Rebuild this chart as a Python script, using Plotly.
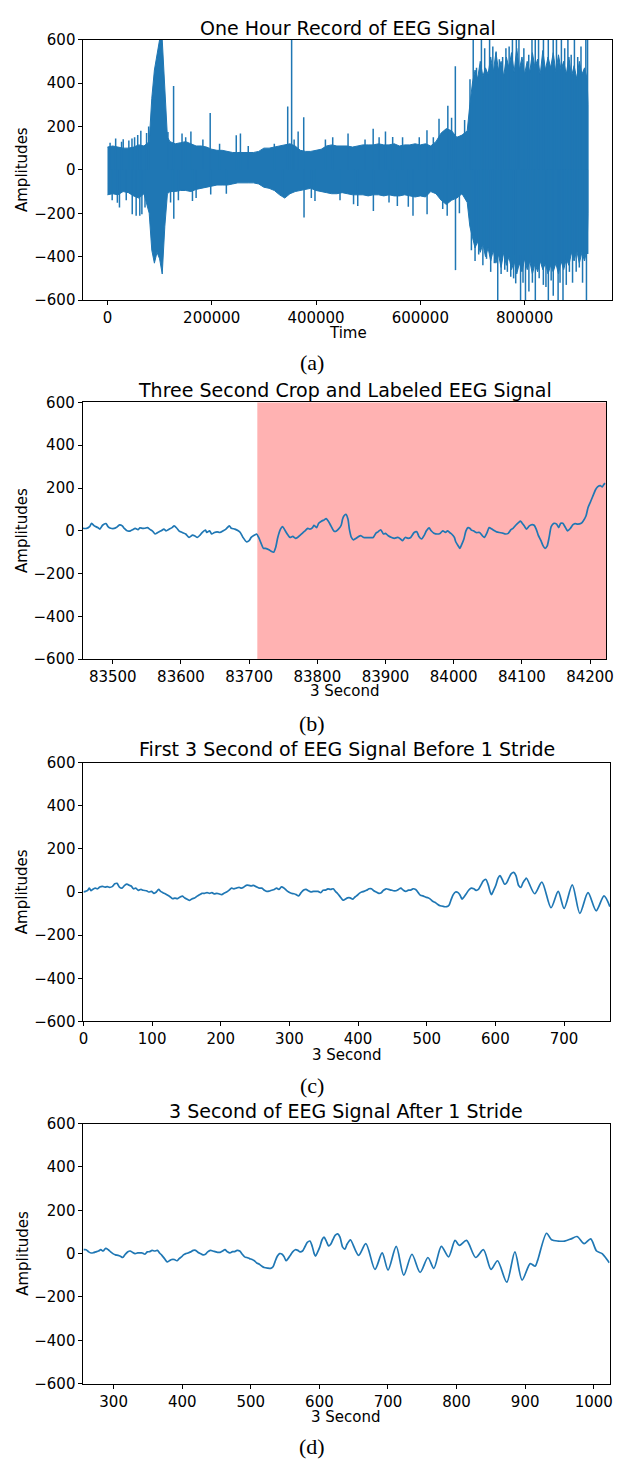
import plotly.graph_objects as go

FW, FH = 619, 1465
BLUE = "#1f77b4"
SPAN_RED = "#ffb2b2"

# ---------------- Panel (a): one-hour record (envelope + spikes) ----------------
band_t = [0, 10000, 20000, 30000, 40000, 50000, 60000, 70000, 80000, 85000, 90000, 95000,
          100000, 105000, 110000, 115000, 120000, 130000, 140000, 150000, 160000, 170000,
          180000, 190000, 200000, 210000, 220000, 230000, 240000, 250000, 260000, 270000,
          280000, 290000, 300000, 310000, 320000, 330000, 340000, 350000, 360000, 370000,
          380000, 390000, 400000, 410000, 420000, 430000, 440000, 450000, 460000, 470000,
          480000, 490000, 500000, 510000, 520000, 530000, 540000, 550000, 560000, 570000,
          580000, 590000, 600000, 610000, 620000, 630000, 640000, 650000, 660000, 670000,
          680000, 690000, 695000, 700000, 705000, 710000, 715000, 720000, 725000, 730000,
          735000, 740000, 745000, 750000, 755000, 760000, 765000, 770000, 775000, 780000,
          785000, 790000, 795000, 800000, 805000, 810000, 815000, 820000, 825000, 830000,
          835000, 840000, 845000, 850000, 855000, 860000, 865000, 870000, 875000, 880000,
          885000, 890000, 895000, 900000, 905000, 910000, 915000, 920000, 921600]
band_hi = [105, 110, 105, 100, 100, 105, 115, 110, 130, 330, 460, 540,
           600, 600, 380, 150, 130, 120, 125, 130, 120, 110,
           110, 105, 95, 90, 90, 85, 80, 80, 80, 80,
           80, 85, 100, 100, 105, 110, 115, 120, 110, 90,
           85, 85, 90, 95, 110, 115, 110, 110, 110, 105,
           110, 115, 115, 115, 120, 115, 115, 120, 110, 115,
           115, 120, 115, 120, 110, 130, 170, 190, 180, 150,
           160, 180, 300, 400, 460, 420, 500, 430, 470, 440,
           520, 450, 540, 460, 500, 430, 520, 470, 540, 450,
           560, 460, 520, 440, 500, 450, 540, 470, 510, 440,
           550, 460, 520, 470, 540, 450, 530, 460, 500, 440,
           520, 430, 480, 420, 500, 440, 470, 420, 300]
band_lo = [-115, -110, -115, -100, -105, -120, -130, -110, -200, -370, -430, -380,
           -410, -480, -260, -110, -100, -100, -95, -95, -100, -90,
           -85, -80, -75, -70, -70, -70, -65, -60, -60, -60,
           -60, -65, -80, -85, -95, -115, -130, -110, -100, -95,
           -90, -85, -95, -100, -105, -110, -110, -105, -110, -115,
           -115, -115, -120, -115, -115, -120, -115, -120, -120, -115,
           -120, -125, -120, -125, -100, -110, -140, -160, -140, -130,
           -110, -150, -260, -310, -360, -330, -380, -340, -400, -360,
           -420, -370, -430, -390, -450, -380, -440, -400, -460, -420,
           -480, -430, -470, -410, -460, -420, -480, -430, -470, -420,
           -460, -430, -480, -440, -470, -430, -480, -420, -460, -410,
           -440, -380, -420, -370, -430, -380, -420, -360, -200]

spike_t = [5000, 9000, 15700, 19000, 23000, 27000, 30200, 36000, 41000, 47000, 47500, 52000,
           55000, 58000, 62000, 64000, 66000, 72000, 75000, 79000,
           116000, 121000, 126800, 127200, 136000, 143000, 150000, 160000, 163000, 170000,
           183000, 197000, 198000, 215000, 228000, 247000, 255000, 270000,
           320000, 336000, 345700, 353200, 358000, 365700, 376400, 377000, 391000, 398000,
           418000, 432000, 446000, 461400, 472000, 480000, 494000, 509600, 510000, 521000,
           533200, 540000, 547000, 556000, 566000, 577000, 586000, 598000, 612800, 613000,
           625000, 635900, 643000, 651600, 652800, 660000, 667200, 667500, 675000, 685000,
           695300, 701500, 707800, 717200, 723500, 732900, 739100, 745400, 751600, 757900,
           764200, 770400, 776700, 784200, 789200, 798600, 808000, 814200, 820500, 826800,
           836200, 845500, 854900, 861200, 870600, 876900, 883100, 889400, 895600, 901900,
           908200, 917500, 920800,
           698000, 705000, 712000, 720000, 727000, 735000, 742000, 748500, 755000, 762000,
           767000, 773500, 779000, 783000, 792300, 797000, 801700, 808300, 815000, 820600,
           828000, 836000, 841000, 845600, 851000, 855000, 864300, 868000, 873700, 880000,
           886000, 892000, 899000, 905000, 911200, 918700, 921000]
spike_v = [125, -140, 145, -152, -174, 130, 141, -140, 135, 144, -205, 150,
           -212, 160, -212, 180, -205, -174, 170, 200,
           174, -150, 386, -225, -140, 167, 150, 177, -144, -130,
           140, 262, -114, 120, -110, 159, 167, 110,
           120, -120, 292, 650, 140, 177, 242, -220, -130, -144,
           140, 150, -140, 167, -159, -167, 140, 189, -190, 150,
           177, -150, 151, -167, 150, -170, -212, 150, 182, -205,
           150, 235, -180, -212, 295, 240, 477, -462, -200, 230,
           417, 650, 470, 650, 560, 650, 568, 545, 510, 520,
           560, 568, 650, 650, 650, 560, 530, 650, 650, 650,
           650, 650, 650, 650, 650, 560, 650, 530, 650, 520,
           568, 650, 650,
           -370, -420, -390, -440, -410, -470, -430, -650, -480, -460,
           -470, -492, -500, -523, -650, -520, -650, -560, -520, -650,
           -500, -530, -540, -650, -510, -580, -650, -520, -650, -530,
           -470, -520, -470, -450, -520, -650, -388]

a_range = [-46080, 967680]
a_ticks = [0, 200000, 400000, 600000, 800000]
a_ticklabels = ["0", "200000", "400000", "600000", "800000"]

# ---------------- Panel (b): three-second crop, labelled region ----------------
b_t = [83456, 83461, 83466, 83469, 83473, 83478, 83481, 83485, 83490, 83493, 83497, 83502,
       83505, 83510, 83514, 83517, 83521, 83526, 83529, 83533, 83537, 83540, 83544, 83547,
       83551, 83554, 83558, 83562, 83566, 83571, 83575, 83578, 83583, 83587, 83590, 83594,
       83597, 83602, 83607, 83612, 83617, 83620, 83624, 83628, 83631, 83636, 83638, 83642,
       83645, 83649, 83653, 83657, 83662, 83666, 83671, 83674, 83679, 83684, 83687, 83691,
       83696, 83700, 83703, 83708, 83711, 83714, 83717, 83721, 83724, 83729, 83733, 83736,
       83739, 83742, 83746, 83749, 83753, 83757, 83760, 83764, 83768, 83771, 83775, 83779,
       83782, 83786, 83789, 83793, 83795, 83799, 83802, 83806, 83810, 83813, 83816, 83820,
       83824, 83827, 83831, 83835,
       83837, 83839, 83842, 83845, 83847, 83850, 83853, 83857, 83861, 83864, 83868, 83873,
       83877, 83882, 83886, 83889, 83893, 83897, 83900, 83904, 83909, 83913, 83918, 83922,
       83925, 83929, 83933, 83937, 83942, 83946, 83949, 83953, 83957, 83960, 83964, 83967,
       83971, 83976, 83980, 83984, 83988, 83991, 83994, 83997, 84001, 84003, 84007, 84009,
       84012, 84015, 84018, 84021, 84024, 84026, 84029, 84033, 84038, 84042, 84045, 84049,
       84052, 84056, 84060, 84063, 84067, 84072, 84076, 84080, 84084, 84087, 84091, 84095,
       84098, 84100, 84104, 84107, 84111, 84115, 84118, 84121, 84124, 84128, 84131, 84134,
       84137, 84140, 84143, 84147, 84151, 84154, 84157, 84160, 84164, 84167, 84171, 84175,
       84178, 84182, 84187, 84190, 84194, 84197, 84201, 84205, 84208, 84211, 84215, 84218,
       84220, 84222]
b_v = [12, 11, 20, 35, 23, 15, 8, 26, 34, 20, 12, 11,
       15, 28, 23, 11, 0, 0, 5, 11, 5, 14, 11, 12,
       15, 8, 0, -15, -8, 0, 8, 0, 8, 15, 23, 12,
       0, -8, -15, -31, -20, -23, -31, -20, -8, 3, -8, 0,
       -15, -8, -5, -8, 0, 8, 23, 12, 8, 0, -8, -31,
       -51, -46, -31, -20, -15, -31, -54, -82, -82, -88, -97, -100,
       -77, -31, 8, 20, 0, -20, -31, -26, -35, -31, -20, -8,
       0, 11, 8, 15, 26, 15, 35, 45, 51, 57, 46, 23,
       0, -3, 8, 26,
       54, 69, 77, 54, 8, -31, -42, -35, -26, -23, -31, -32,
       -32, -31, -11, -5, 5, -15, -12, -23, -31, -35, -31, -38,
       -46, -31, -35, -31, -8, -5, -26, -38, -20, 0, 14, 0,
       -11, -15, -12, 0, -8, 0, -8, -15, -31, -51, -72, -82,
       -62, -38, 0, 15, 11, 3, 0, -8, -8, -23, -31, -8,
       15, 8, 0, -5, -8, -11, -15, -12, 5, 11, 26, 38,
       45, 38, 20, 8, 23, 29, 26, 8, -20, -46, -69, -82,
       -72, -31, 20, 35, 31, 15, 35, 35, 15, 0, 11, 29,
       34, 31, 35, 46, 69, 108, 138, 169, 192, 205, 211, 205,
       215, 223]
b_range = [83456, 84224]
b_label_start = 83712
b_label_end = 84224
b_ticks = [83500, 83600, 83700, 83800, 83900, 84000, 84100, 84200]
b_ticklabels = ["83500", "83600", "83700", "83800", "83900", "84000", "84100", "84200"]

# ---------------- Panels (c) and (d): samples 0..1023 of one window (stride of 256) ----------------
sig_t = [0, 2.9, 6.2, 8.6, 11, 13.3, 17.1, 20.5, 23.8, 27.6, 31.4, 34.8, 38.1, 41.9, 45.7, 49,
         52.4, 56.2, 60, 63.3, 66.7, 69.5, 72.8, 76.2, 80, 83.8, 87.1, 91.9, 95.2, 99, 102.8,
         106.2, 109.5, 112.4, 115.7, 119, 122.8, 126.6, 130, 133.3, 137.1, 140.9, 144.3, 147.6,
         151.4, 154.7, 158.5, 161.9, 165.7, 169.5, 172.8, 176.2, 180, 183.8, 187.1, 190.4,
         194.3, 198, 201.4, 204.7, 208.5, 212.3, 215.7, 219, 222.8, 226.6, 230, 233.3, 237.1,
         240.9, 244.3, 247.6, 251.4,
         256, 259.8, 263.6, 267, 270.3, 274.1, 277.9, 281.3, 284.6, 288.4, 292.2, 295.6, 298.9,
         302.7, 306.5, 309.9, 313.2, 317, 320.8, 324.2, 327.5, 331.3, 335.1, 338.5, 341.8, 345.6,
         349, 352.7, 356.1, 359.9, 363.7, 367, 370.4, 374.2, 378, 381.3, 384.7, 388.5, 392.3,
         395.6, 399, 401.8, 405.2, 408.5, 412.3, 416.1, 419.5, 422.8, 426.6, 430.4, 433.8,
         437.1, 440.9, 444.7, 448.1, 451.4, 455.2, 459, 462.3, 465.7, 469.5, 473.3, 476.6, 480,
         483.8, 487.6, 490.9, 494.3, 498.1, 501.9, 505.2, 508.6, 512.4, 516.2, 519.5, 524.3,
         529, 532.4, 535.2, 538.6, 541.9, 545.7, 548.6, 551.4, 554.3, 557.6, 561, 564.8, 568.6,
         571.9, 575.3, 579.1, 582.4, 586.2, 589.6, 592.4, 594.3, 597.2, 600.5, 603.9, 606.7,
         610, 613.4, 616.2, 619.6, 622.9, 626.7, 630, 633.9, 637.2, 640.1, 643.4,
         645.3, 657.2, 667.7, 681, 691.5, 700.1, 712, 723, 734.9, 746.8, 758.2, 766.8, 777.8,
         788.3, 797.8, 804, 814.5, 827.8, 839.2, 850.2, 859.7, 873.1, 885, 895.5, 907.4, 914.5,
         918.3, 931.2, 938.4, 947.9, 957.4, 966.9, 975.5, 986, 995.5, 1004.1, 1012.2, 1021.7,
         1023]
sig_v = [0, 3, 8, 18, 6, 12, 18, 15, 23, 26, 23, 25, 22, 25, 38, 40,
         23, 18, 31, 37, 31, 28, 15, 18, 8, 12, 8, 6, 0, 3, -6,
         0, 12, 3, -3, -8, -15, -23, -31, -28, -31, -23, -19, -28,
         -34, -39, -31, -28, -19, -12, -6, -6, -3, -6, -3, -9,
         -6, -9, -12, -6, 0, 9, 18, 15, 18, 22, 18, 22, 31,
         31, 28, 31, 25,
         18, 18, 8, 3, 4, 8, 12, 18, 12, 24, 18, 8, 0,
         -6, -8, -12, -18, -3, 9, 12, 6, 0, 3, 3, 3, -3,
         8, 9, 15, 12, 15, 3, -8, -23, -38, -33, -27, -27, -33,
         -23, -15, -6, 0, 3, 8, 15, 15, 6, 0, -6, -3,
         8, 15, 12, 9, 6, 6, 12, 18, 9, 3, 9, 9, 15,
         12, -3, -15, -18, -23, -27, -33, -43, -49, -58, -64, -67,
         -68, -61, -38, -12, 0, -3, -15, -33, -23, -8, 8, 18, 15,
         8, 12, 33, 52, 58, 33, 0, -12, 6, 30, 64, 76,
         58, 36, 42, 64, 84, 91, 76, 30, 21, 42, 58,
         64, -8, 46, -73, 3, -76, 33, -99, -3, -87, -18, -68, 33,
         -15, 61, 38, 61, -18, 18, -73, -33, -132, 8, -122, -46, -58,
         -30, 94, 64, 58, 58, 68, 79, 46, 68, 12, 0, -38,
         -42]
c_range = [0, 767]
d_range = [256, 1023]
c_ticks = [0, 100, 200, 300, 400, 500, 600, 700]
c_ticklabels = ["0", "100", "200", "300", "400", "500", "600", "700"]
d_ticks = [300, 400, 500, 600, 700, 800, 900, 1000]
d_ticklabels = ["300", "400", "500", "600", "700", "800", "900", "1000"]

y_range = [-600, 600]
y_ticks = [-600, -400, -200, 0, 200, 400, 600]
y_ticklabels = ["\u2212600", "\u2212400", "\u2212200", "0", "200", "400", "600"]

titles = ["One Hour Record of EEG Signal", "Three Second Crop and Labeled EEG Signal",
          "First 3 Second of EEG Signal Before 1 Stride", "3 Second of EEG Signal After 1 Stride"]
xlabels = ["Time", "3 Second", "3 Second", "3 Second"]
captions = ["(a)", "(b)", "(c)", "(d)"]

# ---------------- layout geometry (page pixels) ----------------
boxes = [  # left, right, top, bottom
    (80, 619, 31, 294.7),
    (79.3, 613.3, 398.3, 658.3),
    (80, 617, 763, 1025),
    (80, 616.5, 1128.5, 1391.7),
]
title_y = [19, 385.5, 749, 1116]
xlabel_y = [328, 690.5, 1059, 1426]
caption_y = [358, 723, 1090, 1455]

SANS = "DejaVu Sans"
SERIF = "Liberation Serif"


def px_x(x):
    return min(max(x / FW, 0), 1)


def px_y(y):
    return min(max(1 - y / FH, 0), 1)


fig = go.Figure()

# panel a
fig.add_trace(go.Scatter(x=band_t + band_t[::-1], y=band_hi + band_lo[::-1], mode="lines",
                         fill="toself", fillcolor=BLUE, line=dict(color=BLUE, width=1),
                         xaxis="x", yaxis="y", hoverinfo="skip", showlegend=False))
sx, sy = [], []
for t, v in zip(spike_t, spike_v):
    sx += [t, t, None]
    sy += [0, v, None]
fig.add_trace(go.Scatter(x=sx, y=sy, mode="lines", line=dict(color=BLUE, width=1.5),
                         xaxis="x", yaxis="y", hoverinfo="skip", showlegend=False))

# panel b
fig.add_trace(go.Scatter(x=b_t, y=b_v, mode="lines",
                         line=dict(color=BLUE, width=1.7, shape="spline", smoothing=0.6),
                         xaxis="x2", yaxis="y2", showlegend=False))

# panels c, d
c_t = [t for t in sig_t if c_range[0] <= t <= c_range[1]]
c_v = [v for t, v in zip(sig_t, sig_v) if c_range[0] <= t <= c_range[1]]
d_t = [t for t in sig_t if d_range[0] <= t <= d_range[1]]
d_v = [v for t, v in zip(sig_t, sig_v) if d_range[0] <= t <= d_range[1]]
fig.add_trace(go.Scatter(x=c_t, y=c_v, mode="lines",
                         line=dict(color=BLUE, width=1.7, shape="spline", smoothing=0.8),
                         xaxis="x3", yaxis="y3", showlegend=False))
fig.add_trace(go.Scatter(x=d_t, y=d_v, mode="lines",
                         line=dict(color=BLUE, width=1.7, shape="spline", smoothing=0.8),
                         xaxis="x4", yaxis="y4", showlegend=False))

fig.add_shape(type="rect", xref="x2", yref="y2 domain", x0=b_label_start, x1=b_label_end,
              y0=0, y1=1, fillcolor=SPAN_RED, line=dict(width=0), layer="below")

x_specs = [
    (a_range, a_ticks, a_ticklabels),
    (b_range, b_ticks, b_ticklabels),
    (c_range, c_ticks, c_ticklabels),
    (d_range, d_ticks, d_ticklabels),
]

axis_common = dict(showgrid=False, zeroline=False, showline=True, mirror=True,
                   linecolor="black", linewidth=1, ticks="outside", ticklen=4,
                   tickwidth=1, tickcolor="black",
                   tickfont=dict(family=SANS, size=15, color="black"))

layout = dict(width=FW, height=FH, margin=dict(l=0, r=0, t=0, b=0), hovermode=False,
              paper_bgcolor="white", plot_bgcolor="rgba(0,0,0,0)", showlegend=False)
annotations = []
for i, ((l, r, top, bot), (rng, tv, tt)) in enumerate(zip(boxes, x_specs)):
    sfx = "" if i == 0 else str(i + 1)
    layout["xaxis" + sfx] = dict(domain=[px_x(l), px_x(r)], range=rng, tickvals=tv, ticktext=tt,
                                 anchor="y" + sfx, **axis_common)
    layout["yaxis" + sfx] = dict(domain=[px_y(bot), px_y(top)], range=y_range,
                                 tickvals=y_ticks, ticktext=y_ticklabels,
                                 anchor="x" + sfx, **axis_common)
    cx = (l + r) / 2 / FW
    annotations.append(dict(text=titles[i], x=cx, y=px_y(title_y[i]), xref="paper", yref="paper",
                            xanchor="center", yanchor="middle", showarrow=False,
                            font=dict(family=SANS, size=19, color="black")))
    annotations.append(dict(text=xlabels[i], x=cx, y=px_y(xlabel_y[i]), xref="paper", yref="paper",
                            xanchor="center", yanchor="middle", showarrow=False,
                            font=dict(family=SANS, size=15, color="black")))
    annotations.append(dict(text="Amplitudes", x=px_x(17.5), y=px_y((top + bot) / 2), xref="paper",
                            yref="paper", xanchor="center", yanchor="middle", textangle=-90,
                            showarrow=False, font=dict(family=SANS, size=15, color="black")))
    annotations.append(dict(text=captions[i], x=px_x(313), y=px_y(caption_y[i]), xref="paper",
                            yref="paper", xanchor="center", yanchor="middle", showarrow=False,
                            font=dict(family=SERIF, size=22, color="black")))
layout["annotations"] = annotations
fig.update_layout(**layout)

fig.write_html("out.html", config={"displayModeBar": False, "staticPlot": True},
               post_script="document.documentElement.style.margin='0';"
                           "document.body.style.margin='0';document.body.style.overflow='hidden';")
